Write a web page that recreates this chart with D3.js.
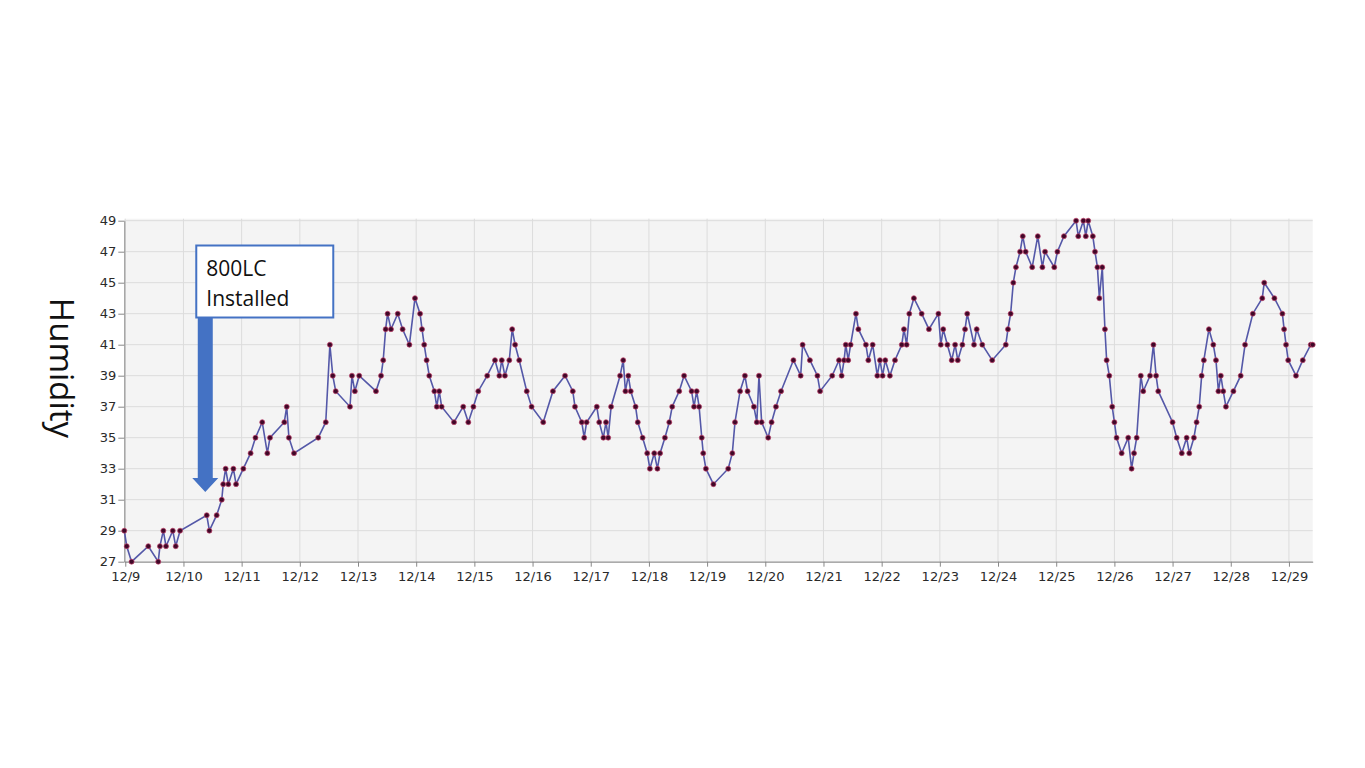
<!DOCTYPE html>
<html>
<head>
<meta charset="utf-8">
<script src="https://cdn.jsdelivr.net/npm/d3@7"></script>
<style>
  html, body { margin: 0; padding: 0; background: #ffffff; }
  svg { display: block; }
</style>
</head>
<body>
<svg id="chart" width="1365" height="768"></svg>
<script>
// ---- Data (hours since 12/9 00:00, humidity %) ----
const hours = [
  -0.4, 0.6, 2.6, 9.5, 13.6, 14.3, 15.7, 16.8, 19.6, 20.8, 22.6,
  33.6, 34.7, 37.7, 39.8, 40.4, 41.4, 42.5, 44.6, 45.7, 48.7, 51.7, 53.7, 56.5, 58.6, 59.7,
  65.6, 66.6, 67.5, 69.6, 79.6, 82.7, 84.4, 85.6, 86.8, 92.7, 93.5, 94.7, 96.5,
  103.4, 105.5, 106.4, 107.4, 108.2, 109.6, 112.4, 114.4, 117.2, 119.5, 121.6, 122.4, 123.3,
  124.3, 125.4, 127.5, 128.5, 129.5, 130.5, 135.6, 139.4, 141.5, 143.6, 145.6, 149.3, 152.5,
  154.3, 155.3, 156.6, 158.4, 159.6, 160.8, 162.5, 165.6, 167.6, 172.4, 176.4, 181.4, 184.6,
  185.5, 188.3, 189.3, 190.3, 194.5, 195.5, 197.2, 198.3, 199.2, 200.4, 204.1, 205.4, 206.3,
  207.5, 208.5, 210.5, 211.4, 213.4, 215.3, 216.4, 218.2, 219.5, 220.6, 222.6, 224.4, 225.6,
  228.5, 230.5, 233.6, 234.6, 235.7, 236.7, 237.8, 238.4, 239.5, 242.6, 248.7, 250.4, 251.5,
  253.6, 255.6, 256.7, 259.3, 260.5, 261.4, 262.5, 265.2, 266.6, 268.4, 270.5, 275.6, 278.6,
  279.4, 282.4, 285.5, 286.6, 291.6, 294.4, 295.5, 296.5, 297.2, 298.2, 299.2, 301.4, 302.4,
  305.5, 306.5, 308.3, 310.2, 311.3, 312.4, 313.5, 315.4, 317.5, 320.3, 321.2, 322.3, 323.4,
  325.3, 328.5, 331.5, 335.4, 336.4, 337.4, 339.1, 340.9, 342.3, 343.4, 345.3, 346.4, 347.3,
  350.1, 351.2, 353.5, 357.6, 363.2, 364.1, 365.2, 366.3, 367.4, 369.1, 370.2, 371.4, 374.1,
  376.4, 378.3, 379.4, 383.2, 384.5, 387.2, 392.2, 393.1, 395.2, 396.2, 397.2, 399.1, 400.0,
  401.0, 401.8, 403.0, 404.1, 404.8, 405.9, 407.1, 408.0, 408.9, 411.0, 413.7, 415.1, 416.1,
  417.2, 418.9, 419.9, 422.7, 424.1, 425.2, 426.1, 432.0, 433.7, 435.8, 437.8, 438.9, 440.8,
  441.9, 443.0, 444.0, 444.9, 447.0, 448.8, 449.9, 450.9, 451.9, 452.9, 454.0, 457.1, 460.1,
  461.9, 465.1, 469.0, 469.8, 474.0, 477.3, 478.0, 478.8, 479.7, 482.9, 485.7, 489.0, 489.8
];
const humidity = [
  29, 28, 27, 28, 27, 28, 29, 28, 29, 28, 29,
  30, 29, 30, 31, 32, 33, 32, 33, 32, 33, 34, 35, 36, 34, 35,
  36, 37, 35, 34, 35, 36, 41, 39, 38, 37, 39, 38, 39,
  38, 39, 40, 42, 43, 42, 43, 42, 41, 44, 43, 42, 41,
  40, 39, 38, 37, 38, 37, 36, 37, 36, 37, 38, 39, 40,
  39, 40, 39, 40, 42, 41, 40, 38, 37, 36, 38, 39, 38,
  37, 36, 35, 36, 37, 36, 35, 36, 35, 37, 39, 40, 38,
  39, 38, 37, 36, 35, 34, 33, 34, 33, 34, 35, 36, 37,
  38, 39, 38, 37, 38, 37, 35, 34, 33, 32, 33, 34, 36,
  38, 39, 38, 37, 36, 39, 36, 35, 36, 37, 38, 40, 39,
  41, 40, 39, 38, 39, 40, 39, 40, 41, 40, 41, 43, 42,
  41, 40, 41, 39, 40, 39, 40, 39, 40, 41, 42, 41, 43,
  44, 43, 42, 43, 41, 42, 41, 40, 41, 40, 41, 42, 43,
  41, 42, 41, 40, 41, 42, 43, 45, 46, 47, 48, 47, 46,
  48, 46, 47, 46, 47, 48, 49, 48, 49, 48, 49, 48, 47,
  46, 44, 46, 42, 40, 39, 37, 36, 35, 34, 35, 33, 34,
  35, 39, 38, 39, 41, 39, 38, 36, 35, 34, 35, 34, 35,
  36, 37, 39, 40, 42, 41, 40, 38, 39, 38, 37, 38, 39,
  41, 43, 44, 45, 44, 43, 42, 41, 40, 39, 40, 41, 41
];
const dayLabels = ["12/9","12/10","12/11","12/12","12/13","12/14","12/15","12/16","12/17","12/18",
                   "12/19","12/20","12/21","12/22","12/23","12/24","12/25","12/26","12/27","12/28","12/29"];
const yTicks = [27, 29, 31, 33, 35, 37, 39, 41, 43, 45, 47, 49];
const yTitle = "Humidity";
const annotationLines = ["800LC", "Installed"];
const annotationHour = 33; // arrow points at ~12/10 09:00

// ---- Layout ----
const svg = d3.select("#chart");
const plot = { left: 124.3, right: 1312.7, top: 220.7, bottom: 561.7 };

const x = d3.scaleLinear().domain([-0.4, 489.8]).range([plot.left, plot.right]);
const y = d3.scaleLinear().domain([27, 49]).range([plot.bottom, plot.top]);

// plot background
svg.append("rect")
  .attr("x", plot.left).attr("y", plot.top - 2)
  .attr("width", plot.right - plot.left).attr("height", plot.bottom - plot.top + 2)
  .attr("fill", "#f4f4f4");

const dayTicks = dayLabels.map((d, i) => i * 24);

// gridlines
svg.append("g").selectAll("line.v").data(dayTicks).join("line")
  .attr("x1", d => x(d)).attr("x2", d => x(d))
  .attr("y1", plot.top - 2).attr("y2", plot.bottom)
  .attr("stroke", "#dcdcdc").attr("stroke-width", 1);
svg.append("g").selectAll("line.h").data(yTicks).join("line")
  .attr("x1", plot.left).attr("x2", plot.right)
  .attr("y1", d => y(d)).attr("y2", d => y(d))
  .attr("stroke", "#dcdcdc").attr("stroke-width", 1);

// axes
const xAxis = d3.axisBottom(x).tickValues(dayTicks)
  .tickFormat((d, i) => dayLabels[i]).tickSize(5).tickSizeOuter(0);
const gx = svg.append("g").attr("transform", `translate(0,${plot.bottom})`).call(xAxis);
gx.select(".domain").attr("stroke", "#888");
gx.selectAll(".tick line").attr("stroke", "#888");
gx.selectAll(".tick text").attr("fill", "#2a2a2a").attr("font-size", 13)
  .attr("font-family", "DejaVu Sans, sans-serif").attr("dy", "0.9em");

const yAxis = d3.axisLeft(y).tickValues(yTicks).tickSize(6).tickSizeOuter(0);
const gy = svg.append("g").attr("transform", `translate(${plot.left},0)`).call(yAxis);
gy.select(".domain").attr("stroke", "#888");
gy.selectAll(".tick line").attr("stroke", "#888");
gy.selectAll(".tick text").attr("fill", "#2a2a2a").attr("font-size", 13)
  .attr("font-family", "DejaVu Sans, sans-serif").attr("x", -8);

// y title
svg.append("text")
  .attr("transform", "translate(50,368) rotate(90)")
  .attr("text-anchor", "middle")
  .attr("font-family", "'Open Sans', Lato, sans-serif")
  .attr("font-size", 33)
  .attr("fill", "#111")
  .text(yTitle);

// line
const pts = hours.map((h, i) => ({ h, v: humidity[i] }));
svg.append("path").datum(pts)
  .attr("fill", "none")
  .attr("stroke", "#5458a8")
  .attr("stroke-width", 1.6)
  .attr("d", d3.line().x(d => x(d.h)).y(d => y(d.v)));

// markers
svg.append("g").selectAll("circle").data(pts).join("circle")
  .attr("cx", d => x(d.h)).attr("cy", d => y(d.v))
  .attr("r", 2.5)
  .attr("fill", "#400828")
  .attr("stroke", "#c0406a")
  .attr("stroke-opacity", 0.7)
  .attr("stroke-width", 1);

// annotation: box + arrow
const ax = x(annotationHour);
const boxX = ax - 9, boxY = 245.5, boxW = 137, boxH = 72;
const shaftW = 15, headW = 26, headH = 14;
const shaftTop = boxY + boxH, shaftBottom = 478, tipY = 492;
svg.append("path")
  .attr("d", `M${ax - shaftW/2},${shaftTop} L${ax + shaftW/2},${shaftTop} L${ax + shaftW/2},${shaftBottom}
              L${ax + headW/2},${shaftBottom} L${ax},${tipY} L${ax - headW/2},${shaftBottom}
              L${ax - shaftW/2},${shaftBottom} Z`)
  .attr("fill", "#4472c4");
svg.append("rect")
  .attr("x", boxX).attr("y", boxY).attr("width", boxW).attr("height", boxH)
  .attr("fill", "#ffffff").attr("stroke", "#4472c4").attr("stroke-width", 2);
svg.append("g").selectAll("text").data(annotationLines).join("text")
  .attr("x", boxX + 10)
  .attr("y", (d, i) => boxY + 30 + i * 30)
  .attr("font-family", "'Open Sans', Lato, sans-serif")
  .attr("font-size", 21)
  .attr("fill", "#111")
  .text(d => d);
</script>
</body>
</html>
